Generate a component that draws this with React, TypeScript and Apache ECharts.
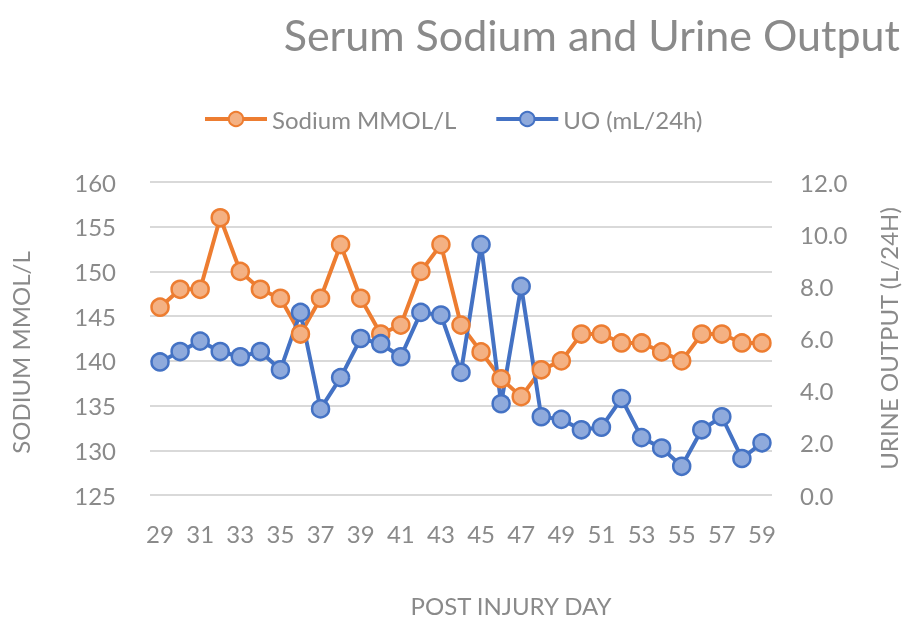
import React, { useEffect, useRef } from "react";
import * as echarts from "echarts";

const days = [29,30,31,32,33,34,35,36,37,38,39,40,41,42,43,44,45,46,47,48,49,50,51,52,53,54,55,56,57,58,59].map(String);
const sodium = [146,148,148,156,150,148,147,143,147,153,147,143,144,150,153,144,141,138,136,139,140,143,143,142,142,141,140,143,143,142,142];
const urineOutput = [5.1,5.5,5.9,5.5,5.3,5.5,4.8,7.0,3.3,4.5,6.0,5.8,5.3,7.0,6.9,4.7,9.6,3.5,8.0,3.0,2.9,2.5,2.6,3.7,2.2,1.8,1.1,2.5,3.0,1.4,2.0];

const FONT = "Lato";
const GREY = "#8a8a8a";

export default function App() {
  const ref = useRef<HTMLDivElement>(null);
  useEffect(() => {
    const chart = echarts.init(ref.current!, null, { renderer: "svg" });
    chart.setOption({
      animation: false,
      textStyle: { fontFamily: FONT, color: GREY },
      title: {
        text: "Serum Sodium and Urine Output",
        right: 3,
        top: 8,
        textStyle: { fontFamily: FONT, fontSize: 43, fontWeight: "normal", color: GREY },
      },
      legend: {
        top: 102,
        left: 198,
        itemWidth: 62,
        itemHeight: 18,
        itemGap: 38,
        lineStyle: { width: 4 },
        textStyle: { fontFamily: FONT, fontSize: 24, color: GREY },
        data: ["Sodium MMOL/L", "UO (mL/24h)"],
      },
      grid: { left: 150, right: 133, top: 182, bottom: 126 },
      xAxis: {
        type: "category",
        data: days,
        boundaryGap: true,
        axisLine: { show: false },
        axisTick: { show: false },
        axisLabel: { interval: 1, fontSize: 24, color: GREY, fontFamily: FONT, margin: 26 },
        name: "POST INJURY DAY",
        nameLocation: "middle",
        nameGap: 98,
        nameTextStyle: { fontSize: 24, color: GREY, fontFamily: FONT, padding: [0, 0, 0, 100] },
      },
      yAxis: [
        {
          type: "value",
          min: 125,
          max: 160,
          interval: 5,
          axisLine: { show: false },
          axisTick: { show: false },
          splitLine: { lineStyle: { color: "#d9d9d9", width: 2 } },
          axisLabel: { fontSize: 24, color: GREY, fontFamily: FONT, margin: 34 },
          name: "SODIUM MMOL/L",
          nameLocation: "middle",
          nameGap: 118,
          nameTextStyle: { fontSize: 24, color: GREY, fontFamily: FONT, padding: [0, 28, 0, 0] },
        },
        {
          type: "value",
          min: 0,
          max: 12,
          interval: 2,
          axisLine: { show: false },
          axisTick: { show: false },
          splitLine: { show: false },
          axisLabel: { fontSize: 24, color: GREY, fontFamily: FONT, margin: 28, formatter: (v: number) => v.toFixed(1) },
          name: "URINE OUTPUT (L/24H)",
          nameLocation: "middle",
          nameGap: 104,
          nameRotate: 90,
          nameTextStyle: { fontSize: 24, color: GREY, fontFamily: FONT },
        },
      ],
      series: [
        {
          name: "Sodium MMOL/L",
          type: "line",
          data: sodium,
          yAxisIndex: 0,
          symbol: "circle",
          symbolSize: 17,
          showAllSymbol: true,
          lineStyle: { color: "#ED7D31", width: 4 },
          itemStyle: { color: "#F4B183", borderColor: "#ED7D31", borderWidth: 2.5 },
        },
        {
          name: "UO (mL/24h)",
          type: "line",
          data: urineOutput,
          yAxisIndex: 1,
          symbol: "circle",
          symbolSize: 17,
          showAllSymbol: true,
          lineStyle: { color: "#4472C4", width: 4 },
          itemStyle: { color: "#8FAADC", borderColor: "#4472C4", borderWidth: 2.5 },
        },
      ],
    });
    return () => chart.dispose();
  }, []);
  return <div ref={ref} style={{ position: "fixed", left: 0, top: 0, width: 908, height: 622 }} />;
}
